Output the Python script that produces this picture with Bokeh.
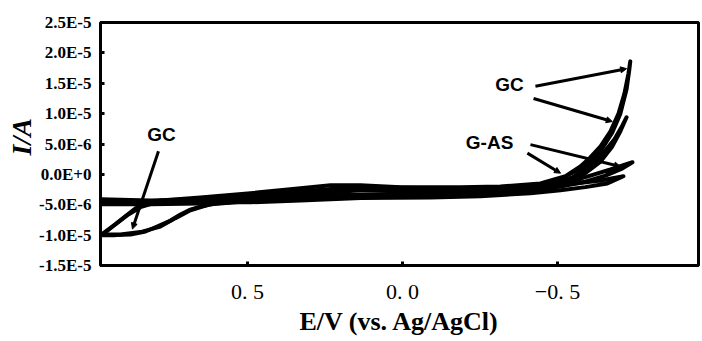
from bokeh.plotting import figure
from bokeh.models import Range1d, FixedTicker, Arrow, NormalHead, Title
from bokeh.core.properties import value
from bokeh.embed import file_html
from bokeh.resources import INLINE

# ---- axis ticks (current in units of 1e-6 A) ----
y_ticks = [-15, -10, -5, 0, 5, 10, 15, 20, 25]
y_tick_labels = ["-1.5E-5", "-1.0E-5", "-5.0E-6", "0.0E+0", "5.0E-6",
                 "1.0E-5", "1.5E-5", "2.0E-5", "2.5E-5"]
x_ticks = [0.5, 0.0, -0.5]
x_tick_labels = ["0. 5", "0. 0", "\u22120. 5"]

# ---- GC, large loop (E in V, I in 1e-6 A) ----
gc1_e = [0.971, 0.926, 0.877, 0.829, 0.797, 0.748, 0.716, 0.684, 0.652, 0.603, 0.490,
         0.329, 0.200, 0.006, -0.187, -0.316, -0.413, -0.477, -0.526, -0.574, -0.606,
         -0.639, -0.671, -0.697, -0.716, -0.729, -0.735,
         -0.732, -0.723, -0.703, -0.677, -0.639, -0.590, -0.526, -0.445, -0.316, -0.187,
         0.006, 0.135, 0.232, 0.329, 0.490, 0.652, 0.781, 0.829, 0.861, 0.894, 0.926,
         0.955, 0.971]
gc1_i = [-10.0, -10.0, -9.9, -9.4, -8.7, -7.6, -6.6, -5.8, -5.3, -4.8, -4.3,
         -3.8, -3.5, -3.3, -3.1, -2.8, -2.3, -1.5, -0.3, 1.3, 2.8,
         4.6, 7.1, 10.0, 13.3, 16.6, 18.6,
         17.3, 14.0, 10.0, 6.9, 3.8, 1.3, -0.3, -1.5, -2.0, -2.1,
         -2.1, -1.8, -1.8, -2.3, -3.1, -3.8, -4.3, -4.8, -5.6, -6.9, -8.2,
         -9.4, -10.0]

# ---- GC, small loop ----
gc2_e = [0.971, 0.910, 0.845, 0.781, 0.732, 0.684, 0.619, 0.490, 0.329, 0.135, -0.090,
         -0.316, -0.445, -0.526, -0.590, -0.639, -0.677, -0.703, -0.723,
         -0.710, -0.684, -0.648, -0.606, -0.548, -0.477, -0.381, -0.252, -0.090, 0.071,
         0.200, 0.329, 0.490, 0.652, 0.771, 0.813, 0.845, 0.884, 0.923, 0.971]
gc2_i = [-9.9, -9.9, -9.5, -8.6, -7.2, -5.9, -4.9, -4.4, -3.9, -3.5, -3.3,
         -3.0, -2.5, -1.5, 0.2, 2.1, 4.6, 7.1, 9.4,
         8.1, 5.8, 3.5, 1.3, -0.5, -1.6, -2.3, -2.5, -2.3, -2.1,
         -2.3, -2.8, -3.5, -4.1, -4.6, -4.9, -5.4, -6.6, -8.1, -9.9]

# ---- G-AS, first loop ----
gas1_e = [0.974, 0.813, 0.652, 0.490, 0.329, 0.135, -0.090, -0.316, -0.445, -0.542,
          -0.606, -0.671, -0.742,
          -0.710, -0.655, -0.590, -0.510, -0.413, -0.252, -0.090, 0.135, 0.329, 0.490,
          0.652, 0.813, 0.974]
gas1_i = [-4.6, -4.6, -4.4, -4.1, -3.6, -3.3, -3.1, -2.8, -2.1, -1.2,
          -0.2, 0.8, 2.0,
          1.0, -0.2, -1.2, -2.0, -2.8, -3.3, -3.5, -3.8, -4.1, -4.4,
          -4.8, -4.9, -4.9]

# ---- G-AS, second loop ----
gas2_e = [0.974, 0.813, 0.652, 0.490, 0.329, 0.135, -0.090, -0.316, -0.461, -0.558,
          -0.639, -0.713,
          -0.661, -0.590, -0.510, -0.413, -0.252, -0.090, 0.135, 0.329, 0.490, 0.652,
          0.813, 0.974]
gas2_i = [-4.1, -4.3, -4.1, -3.6, -3.3, -2.6, -2.6, -2.5, -2.0, -1.5,
          -1.0, -0.3,
          -1.5, -2.1, -2.6, -3.1, -3.6, -3.8, -3.9, -4.3, -4.6, -4.6,
          -4.6, -4.4]

# ---- annotations ----
label_texts = ["GC", "GC", "G-AS"]
label_e = [0.777, -0.345, -0.281]
label_i = [6.6, 14.8, 5.3]
pointer_e0 = [0.787, -0.429, -0.423, -0.413, -0.403]
pointer_i0 = [3.8, 14.5, 12.5, 4.9, 3.5]
pointer_e1 = [0.871, -0.723, -0.677, -0.703, -0.510]
pointer_i1 = [-9.0, 17.4, 8.7, 1.3, 0.2]
y_title = "I/A"

p = figure(width=702, height=341, output_backend="svg", toolbar_location=None,
           x_range=Range1d(0.974, -0.955), y_range=Range1d(-15, 25),
           min_border_left=100, min_border_right=4, min_border_top=22,
           min_border_bottom=76)
p.grid.visible = False
p.outline_line_color = "black"
p.outline_line_width = 3
p.background_fill_color = "white"
p.border_fill_color = "white"

for xs, ys in [(gc1_e, gc1_i), (gc2_e, gc2_i), (gas1_e, gas1_i), (gas2_e, gas2_i)]:
    p.line(xs, ys, line_color="black", line_width=4, line_join="round")

for x0, y0, x1, y1 in zip(pointer_e0, pointer_i0, pointer_e1, pointer_i1):
    p.add_layout(Arrow(end=NormalHead(size=6, fill_color="black", line_color="black"),
                       x_start=x0, y_start=y0, x_end=x1, y_end=y1,
                       line_color="black", line_width=3))

p.text(x=label_e, y=label_i, text=label_texts, text_font=value("Liberation Sans"),
       text_font_style="bold", text_font_size="19px", text_align="center",
       text_baseline="middle", text_color="black")

# x axis
xa = p.xaxis[0]
xa.ticker = FixedTicker(ticks=x_ticks)
xa.major_label_overrides = {k: v for k, v in zip(x_ticks, x_tick_labels)}
xa.axis_line_color = None
xa.major_tick_in = 4
xa.major_tick_out = 0
xa.major_tick_line_width = 3
xa.minor_tick_line_color = None
xa.major_label_text_font = "Liberation Serif"
xa.major_label_text_font_size = "22px"
xa.major_label_text_color = "black"
xa.major_label_standoff = 13
xa.axis_label = "E/V (vs. Ag/AgCl)"
xa.axis_label_text_font = "Liberation Serif"
xa.axis_label_text_font_style = "bold"
xa.axis_label_text_font_size = "26px"
xa.axis_label_text_color = "black"
xa.axis_label_standoff = 0

# y axis
ya = p.yaxis[0]
ya.ticker = FixedTicker(ticks=y_ticks)
ya.major_label_overrides = {k: v for k, v in zip(y_ticks, y_tick_labels)}
ya.axis_line_color = None
ya.major_tick_in = 4
ya.major_tick_out = 0
ya.major_tick_line_width = 3
ya.minor_tick_line_color = None
ya.major_label_text_font = "Liberation Sans Narrow"
ya.major_label_text_font_style = "bold"
ya.major_label_text_font_size = "17px"
ya.major_label_text_color = "black"
ya.major_label_standoff = 9

# y axis title as a side title panel (bottom-aligned, offset upward)
p.add_layout(Title(text=y_title, align="left", offset=110, standoff=0,
                   text_font="Liberation Serif", text_font_style="bold italic",
                   text_font_size="28px", text_color="black"), "left")

open("out.html", "w").write(file_html(p, INLINE))
